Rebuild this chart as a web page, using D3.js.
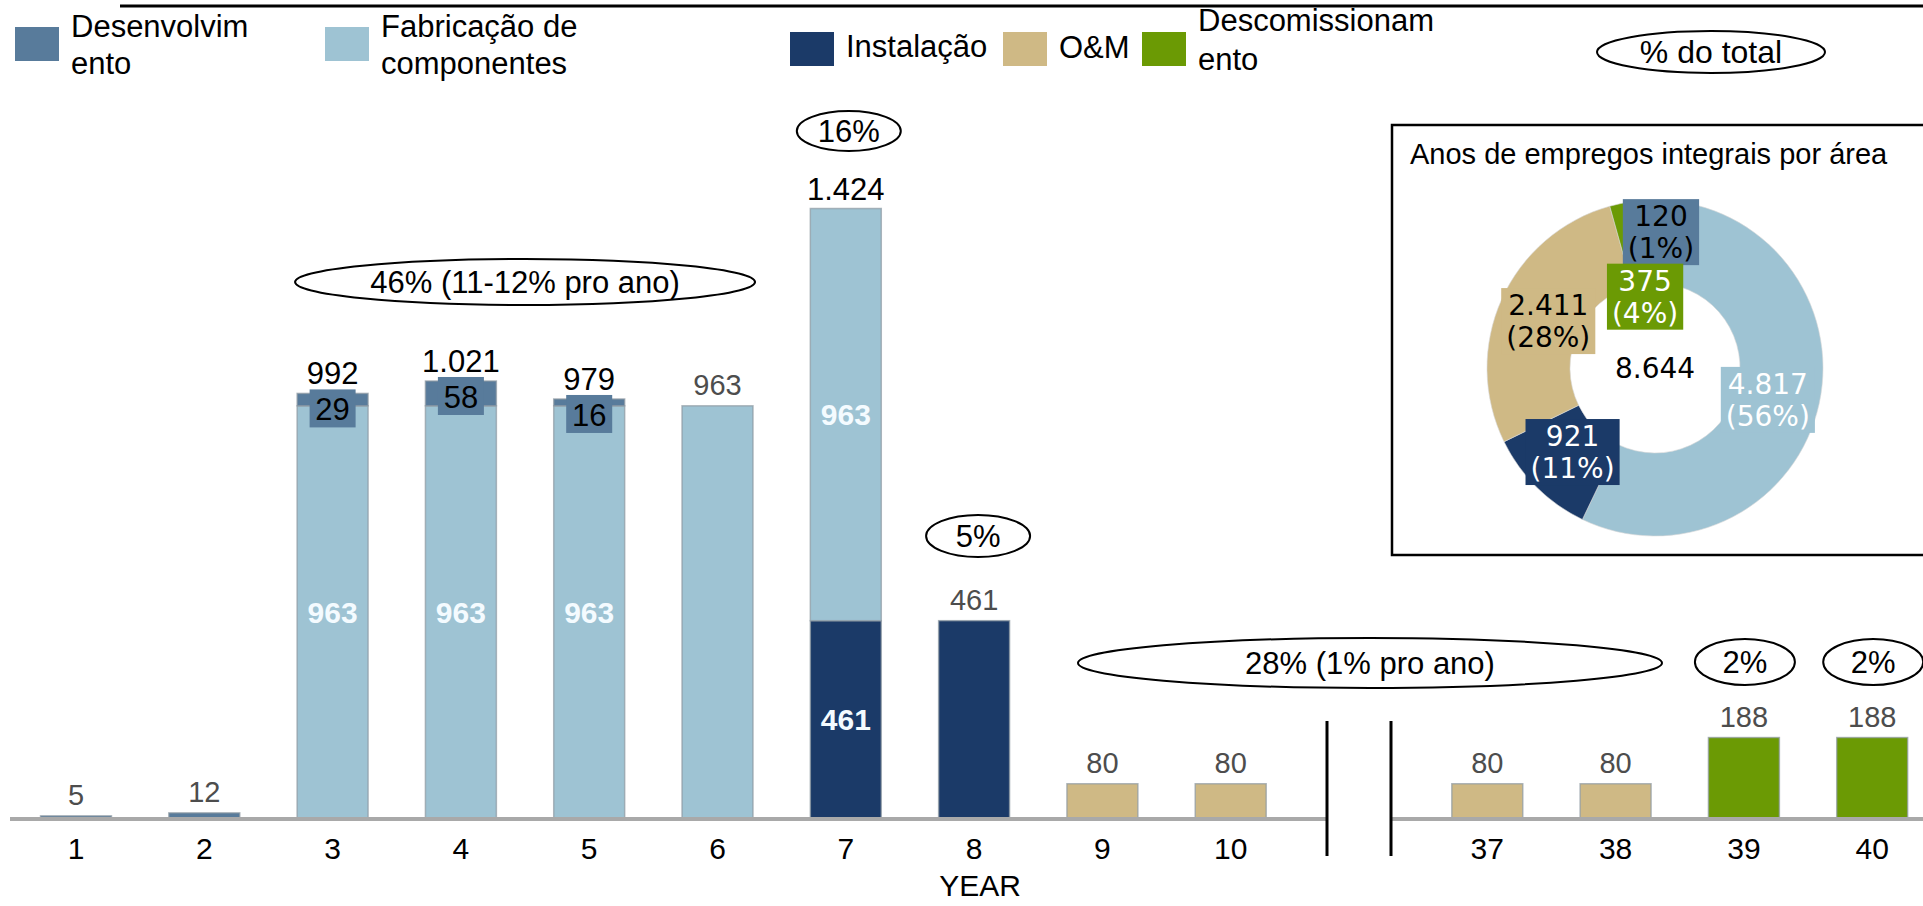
<!DOCTYPE html>
<html>
<head>
<meta charset="utf-8">
<script src="https://cdn.jsdelivr.net/npm/d3@7"></script>
<style>
  body { margin: 0; background: #fff; }
  svg { display: block; font-family: "Liberation Sans", Arial, sans-serif; }
</style>
</head>
<body>
<div id="chart"></div>
<script>
// ---- data ----
const years = ["1","2","3","4","5","6","7","8","9","10","37","38","39","40"];
const desenvolvimento    = [5, 12, 29, 58, 16, 0, 0, 0, 0, 0, 0, 0, 0, 0];
const fabricacao         = [0, 0, 963, 963, 963, 963, 963, 0, 0, 0, 0, 0, 0, 0];
const instalacao         = [0, 0, 0, 0, 0, 0, 461, 461, 0, 0, 0, 0, 0, 0];
const om                 = [0, 0, 0, 0, 0, 0, 0, 0, 80, 80, 80, 80, 0, 0];
const descomissionamento = [0, 0, 0, 0, 0, 0, 0, 0, 0, 0, 0, 0, 188, 188];

const legendLines = [["Desenvolvim", "ento"], ["Fabricação de", "componentes"], ["Instalação"], ["O&M"], ["Descomissionam", "ento"]];

// pie: same order as series
const pieValues = [120, 4817, 921, 2411, 375];
const pieTitle = "Anos de empregos integrais por área";

const annText = ["46% (11-12% pro ano)", "16%", "5%", "28% (1% pro ano)", "2%", "2%"];
const annFrom = ["3", "7", "8", "9", "39", "40"];
const annTo   = ["6", "7", "8", "38", "39", "40"];

// ---- setup ----
const svgWidth = 1923;
const svgHeight = 906;
const keys = ["dev", "fab", "inst", "om", "desc"];
const colors = {dev: "#587b9b", fab: "#9ec3d3", inst: "#1b3a68", om: "#cfb985", desc: "#6b9a04"};
const stackOrder = ["inst", "fab", "dev", "om", "desc"];

const fmt = d3.formatLocale({decimal: ",", thousands: ".", grouping: [3], currency: ["", ""]}).format(",d");

const rows = years.map((y, i) => ({
    year: y,
    dev: desenvolvimento[i], fab: fabricacao[i], inst: instalacao[i],
    om: om[i], desc: descomissionamento[i]
}));
rows.forEach(r => r.total = keys.reduce((s, k) => s + r[k], 0));
rows.forEach(r => r.nseg = keys.filter(k => r[k] > 0).length);

const svg = d3.select("#chart").append("svg")
    .attr("width", svgWidth)
    .attr("height", svgHeight);

// slot positions: one empty slot for the axis break between 10 and 37
const slotOf = i => i < 10 ? i : i + 1;
const step = 128.3;
const x = d3.scaleBand()
    .domain(d3.range(15))
    .range([76 - step / 2, 76 + 14 * step + step / 2])
    .paddingInner(0.447)
    .paddingOuter(0.2235);
const xc = i => x(slotOf(i)) + x.bandwidth() / 2;

const baseY = 818;
const y = d3.scaleLinear()
    .domain([0, d3.max(rows, d => d.total)])
    .range([baseY, 208.5]);

// top rule
svg.append("line")
    .attr("x1", 120).attr("x2", svgWidth)
    .attr("y1", 6).attr("y2", 6)
    .attr("stroke", "#000").attr("stroke-width", 3);

// ---- legend ----
const legX = [15, 325, 790, 1003, 1142];
const legSqTop = [27, 27, 32, 32, 32];
const legBase = [[37, 74], [37, 74], [57], [58], [31, 70]];
keys.forEach((k, i) => {
    const g = svg.append("g");
    g.append("rect")
        .attr("x", legX[i]).attr("y", legSqTop[i])
        .attr("width", 44).attr("height", 34)
        .attr("fill", colors[k]);
    legendLines[i].forEach((t, j) => {
        g.append("text")
            .attr("x", legX[i] + 56)
            .attr("y", legBase[i][j])
            .attr("font-size", 31)
            .text(t);
    });
});

// "% do total"
svg.append("ellipse")
    .attr("cx", 1711).attr("cy", 52).attr("rx", 114).attr("ry", 21)
    .attr("fill", "none").attr("stroke", "#000").attr("stroke-width", 2);
svg.append("text")
    .attr("x", 1711).attr("y", 63)
    .attr("text-anchor", "middle")
    .attr("font-size", 32)
    .text("% do total");

// ---- bars ----
const stacked = d3.stack().keys(stackOrder)(rows);
const barGroup = svg.append("g");
stacked.forEach(layer => {
    barGroup.selectAll(null)
        .data(layer.map((d, i) => ({d, i, key: layer.key})).filter(s => s.d[1] > s.d[0]))
        .join("rect")
        .attr("x", s => x(slotOf(s.i)))
        .attr("y", s => y(s.d[1]))
        .attr("width", x.bandwidth())
        .attr("height", s => y(s.d[0]) - y(s.d[1]))
        .attr("fill", s => colors[s.key])
        .attr("stroke", "#8f9aa2")
        .attr("stroke-opacity", 0.7)
        .attr("stroke-width", 1.5);
});

// axis line (broken)
const breakX = x(10) + x.bandwidth() / 2;
[[10, breakX - 32], [breakX + 32, svgWidth]].forEach(([a, b]) => {
    svg.append("line")
        .attr("x1", a).attr("x2", b)
        .attr("y1", baseY + 1).attr("y2", baseY + 1)
        .attr("stroke", "#a9a9a9").attr("stroke-width", 4);
});
[breakX - 32, breakX + 32].forEach(bx => {
    svg.append("line")
        .attr("x1", bx).attr("x2", bx)
        .attr("y1", 721).attr("y2", 856)
        .attr("stroke", "#000").attr("stroke-width", 3);
});

// x axis labels
const axis = d3.axisBottom(x)
    .tickValues(years.map((_, i) => slotOf(i)))
    .tickFormat(s => years[s < 10 ? s : s - 1])
    .tickSize(0)
    .tickPadding(20);
const axG = svg.append("g")
    .attr("transform", `translate(0, ${baseY})`)
    .call(axis);
axG.select(".domain").remove();
axG.selectAll("text")
    .attr("font-size", 30)
    .attr("font-family", "Liberation Sans, Arial, sans-serif")
    .attr("fill", "#000");

svg.append("text")
    .attr("x", xc(7) + 6).attr("y", 896)
    .attr("text-anchor", "middle")
    .attr("font-size", 30)
    .text("YEAR");

// total labels above bars
svg.append("g").selectAll("text")
    .data(rows)
    .join("text")
    .attr("x", (d, i) => xc(i))
    .attr("y", d => y(d.total) - (d.nseg > 1 ? 9 : 11))
    .attr("text-anchor", "middle")
    .attr("font-size", d => d.nseg > 1 ? 31 : 29)
    .attr("fill", d => d.nseg > 1 ? "#000" : "#4d4d4d")
    .text(d => fmt(d.total));

// inner labels for stacked bars
stacked.forEach(layer => {
    const segs = layer.map((d, i) => ({d, i, key: layer.key}))
        .filter(s => s.d[1] > s.d[0] && rows[s.i].nseg > 1);
    if (layer.key === "dev") {
        const g = svg.append("g").selectAll("g").data(segs).join("g");
        g.append("rect")
            .attr("x", s => xc(s.i) - 23)
            .attr("y", s => y(s.d[1]) - 4)
            .attr("width", 46).attr("height", 38)
            .attr("fill", colors.dev);
        g.append("text")
            .attr("x", s => xc(s.i))
            .attr("y", s => y(s.d[1]) + 27)
            .attr("text-anchor", "middle")
            .attr("font-size", 31)
            .attr("fill", "#000")
            .text(s => fmt(s.d[1] - s.d[0]));
    } else {
        svg.append("g").selectAll("text").data(segs).join("text")
            .attr("x", s => xc(s.i))
            .attr("y", s => (y(s.d[0]) + y(s.d[1])) / 2)
            .attr("dy", "0.36em")
            .attr("text-anchor", "middle")
            .attr("font-size", 30)
            .attr("font-weight", "bold")
            .attr("fill", "#f4fbff")
            .text(s => fmt(s.d[1] - s.d[0]));
    }
});

// ---- annotation ellipses ----
const annCy = [282, 131, 536, 663, 662, 662];
const annRx = [230, 52, 52, 292, 50, 50];
const annRy = [23, 20, 21, 25, 23, 23];
const annDx = [0, 3, 4, 11, 1, 1];
annText.forEach((t, k) => {
    const cx = (xc(years.indexOf(annFrom[k])) + xc(years.indexOf(annTo[k]))) / 2 + annDx[k];
    svg.append("ellipse")
        .attr("cx", cx).attr("cy", annCy[k])
        .attr("rx", annRx[k]).attr("ry", annRy[k])
        .attr("fill", "#fff").attr("stroke", "#000").attr("stroke-width", 2);
    svg.append("text")
        .attr("x", cx).attr("y", annCy[k] + 11)
        .attr("text-anchor", "middle")
        .attr("font-size", 31)
        .text(t);
});

// ---- inset donut ----
svg.append("rect")
    .attr("x", 1392).attr("y", 125)
    .attr("width", 600).attr("height", 430)
    .attr("fill", "#fff").attr("stroke", "#000").attr("stroke-width", 2.5);
svg.append("text")
    .attr("x", 1410).attr("y", 164)
    .attr("font-size", 29)
    .text(pieTitle);

const pieTotal = d3.sum(pieValues);
const pieData = pieValues.map((v, i) => ({key: keys[i], value: v}));
const arcs = d3.pie().sort(null).value(d => d.value)(pieData);
const outerR = 168, innerR = 85;
const arc = d3.arc().innerRadius(innerR).outerRadius(outerR);
const pieG = svg.append("g").attr("transform", "translate(1655, 368)");
pieG.selectAll("path")
    .data(arcs)
    .join("path")
    .attr("d", arc)
    .attr("fill", d => colors[d.data.key])
    .attr("stroke", "#d8d8d8")
    .attr("stroke-width", 0.6);

const labelR = {dev: 137, desc: 73};
const pieFont = "DejaVu Sans, Verdana, sans-serif";
arcs.forEach(a => {
    const r = labelR[a.data.key] || 117;
    const [lx, ly] = d3.arc().innerRadius(r).outerRadius(r).centroid(a);
    const g = pieG.append("g").attr("transform", `translate(${lx}, ${ly})`);
    const dark = a.data.key === "dev" || a.data.key === "om";
    const box = g.append("rect").attr("fill", colors[a.data.key]);
    const t = g.append("text")
        .attr("text-anchor", "middle")
        .attr("font-family", pieFont)
        .attr("font-size", 28)
        .attr("fill", dark ? "#000" : "#fff");
    t.append("tspan").attr("x", 0).attr("y", -5).text(fmt(a.data.value));
    t.append("tspan").attr("x", 0).attr("y", 27)
        .text(`(${Math.round(a.data.value / pieTotal * 100)}%)`);
    const bb = t.node().getBBox();
    box.attr("x", bb.x - 5).attr("y", -32)
        .attr("width", bb.width + 10).attr("height", 66);
});
pieG.append("text")
    .attr("text-anchor", "middle")
    .attr("y", 10)
    .attr("font-family", pieFont)
    .attr("font-size", 28)
    .text(fmt(pieTotal));
</script>
</body>
</html>
